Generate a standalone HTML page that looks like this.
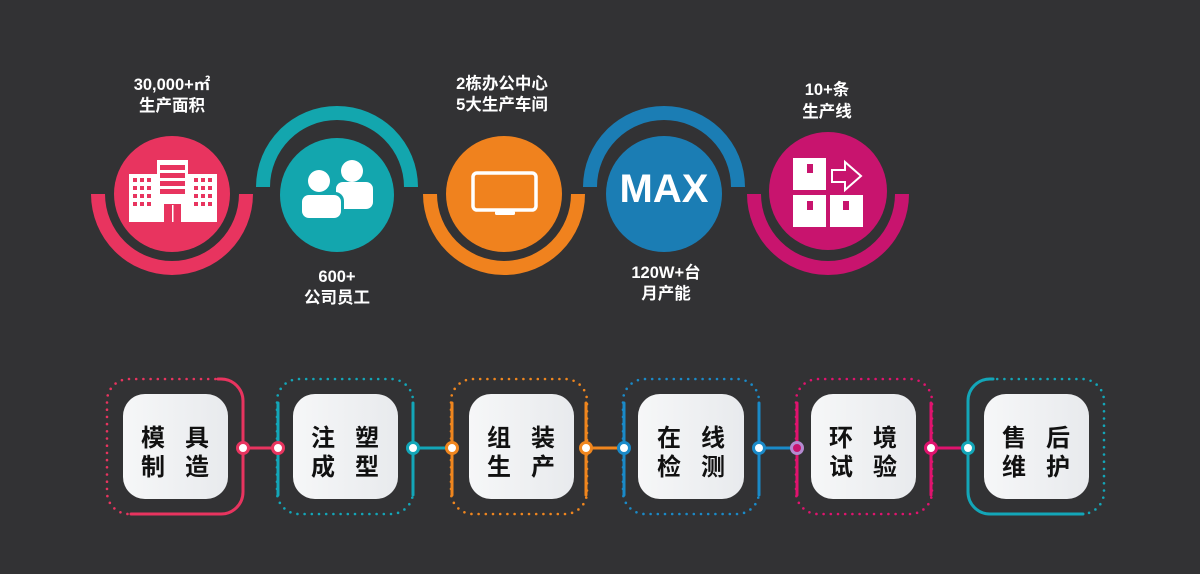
<!DOCTYPE html>
<html><head><meta charset="utf-8"><style>
html,body{margin:0;padding:0;background:#323234;}
svg{display:block}
</style></head><body>
<svg width="1200" height="574" viewBox="0 0 1200 574" xmlns="http://www.w3.org/2000/svg" font-family="'Liberation Sans','Noto Sans CJK SC',sans-serif">
<rect width="1200" height="574" fill="#323234"/>
<path d="M91,194 A81 81 0 0 0 253,194 L239,194 A67 67 0 0 1 105,194 Z" fill="#e8345f"/>
<circle cx="172" cy="194" r="58" fill="#e8345f"/>
<path d="M256,187 A81 81 0 0 1 418,187 L404,187 A67 67 0 0 0 270,187 Z" fill="#13a6ae"/>
<circle cx="337" cy="195" r="57" fill="#13a6ae"/>
<path d="M423,194 A81 81 0 0 0 585,194 L571,194 A67 67 0 0 1 437,194 Z" fill="#f0821e"/>
<circle cx="504" cy="194" r="58" fill="#f0821e"/>
<path d="M583,187 A81 81 0 0 1 745,187 L731,187 A67 67 0 0 0 597,187 Z" fill="#1b7db4"/>
<circle cx="664" cy="194" r="58" fill="#1b7db4"/>
<path d="M747,194 A81 81 0 0 0 909,194 L895,194 A67 67 0 0 1 761,194 Z" fill="#c8146e"/>
<circle cx="828" cy="191" r="59" fill="#c8146e"/>
<rect x="129" y="174" width="88" height="48" fill="#fff"/>
<rect x="157" y="160" width="31" height="62" fill="#fff"/>
<g fill="#e8345f">
<rect x="160" y="165" width="25" height="5"/><rect x="160" y="173" width="25" height="5"/><rect x="160" y="181" width="25" height="5"/><rect x="160" y="189" width="25" height="5"/>
<rect x="164" y="204" width="17" height="18"/>
<rect x="133" y="178" width="4" height="4"/><rect x="140" y="178" width="4" height="4"/><rect x="147" y="178" width="4" height="4"/>
<rect x="133" y="186" width="4" height="4"/><rect x="140" y="186" width="4" height="4"/><rect x="147" y="186" width="4" height="4"/>
<rect x="133" y="194" width="4" height="4"/><rect x="140" y="194" width="4" height="4"/><rect x="147" y="194" width="4" height="4"/>
<rect x="133" y="202" width="4" height="4"/><rect x="140" y="202" width="4" height="4"/><rect x="147" y="202" width="4" height="4"/>
<rect x="194" y="178" width="4" height="4"/><rect x="201" y="178" width="4" height="4"/><rect x="208" y="178" width="4" height="4"/>
<rect x="194" y="186" width="4" height="4"/><rect x="201" y="186" width="4" height="4"/><rect x="208" y="186" width="4" height="4"/>
<rect x="194" y="194" width="4" height="4"/><rect x="201" y="194" width="4" height="4"/><rect x="208" y="194" width="4" height="4"/>
<rect x="194" y="202" width="4" height="4"/><rect x="201" y="202" width="4" height="4"/><rect x="208" y="202" width="4" height="4"/>
</g>
<rect x="172" y="205" width="1.5" height="17" fill="#fff"/>
<g fill="#fff">
<circle cx="352" cy="171" r="11"/><rect x="336" y="182" width="37" height="27" rx="7"/>
</g>
<circle cx="319" cy="181" r="13" fill="#13a6ae"/>
<rect x="299" y="192" width="45" height="28" rx="9" fill="#13a6ae"/>
<g fill="#fff">
<circle cx="319" cy="181" r="11"/><rect x="302" y="195" width="39" height="23" rx="7"/>
</g>
<rect x="473" y="173" width="63" height="37" rx="4" fill="none" stroke="#fff" stroke-width="3.5"/>
<rect x="495" y="211" width="20" height="4" rx="1.5" fill="#fff"/>
<text x="664" y="202" font-size="40" font-weight="bold" fill="#fff" text-anchor="middle">MAX</text>
<g fill="#fff">
<rect x="793" y="158" width="33" height="32"/><rect x="793" y="195" width="33" height="32"/><rect x="830" y="195" width="33" height="32"/>
</g>
<g fill="#c8146e">
<rect x="807" y="164" width="6" height="9"/><rect x="807" y="201" width="6" height="9"/><rect x="843" y="201" width="6" height="9"/>
</g>
<path d="M832,170 H845 V162 L861,176 L845,190 V182 H832 Z" fill="none" stroke="#fff" stroke-width="2"/>
<g fill="#fff" font-weight="bold" font-size="16.5" text-anchor="middle">
<text x="172" y="90">30,000+㎡</text><text x="172" y="111">生产面积</text>
<text x="337" y="282">600+</text><text x="337" y="303">公司员工</text>
<text x="502" y="89">2栋办公中心</text><text x="502" y="110">5大生产车间</text>
<text x="666" y="278">120W+台</text><text x="666" y="299">月产能</text>
<text x="827" y="95">10+条</text><text x="827" y="117">生产线</text>
</g>
<g fill="none" stroke-width="2.6" stroke-linecap="round" stroke-dasharray="0 7.2">
<rect x="107" y="379" width="136" height="135" rx="22" stroke="#e8345f"/>
<rect x="277" y="379" width="136" height="135" rx="22" stroke="#13a6b8"/>
<rect x="451" y="379" width="136" height="135" rx="22" stroke="#f0861e"/>
<rect x="623" y="379" width="136" height="135" rx="22" stroke="#1a8ac8"/>
<rect x="796" y="379" width="136" height="135" rx="22" stroke="#e0136e"/>
<rect x="968" y="379" width="136" height="135" rx="22" stroke="#13a6b8"/>
</g>
<g fill="none" stroke-width="3" stroke-linecap="round">
<path d="M218,379 H221 A22 22 0 0 1 243 401 V492 A22 22 0 0 1 221 514 H131" stroke="#e8345f"/>
<path d="M993,379 H990 A22 22 0 0 0 968 401 V492 A22 22 0 0 0 990 514 H1083" stroke="#13a6b8"/>
<path d="M278,403 V495 M413,403 V495" stroke="#13a6b8"/>
<path d="M452,403 V495 M586,403 V495" stroke="#f0861e"/>
<path d="M624,403 V495 M759,403 V495" stroke="#1a8ac8"/>
<path d="M797,403 V495 M931,403 V495" stroke="#e0136e"/>
<path d="M243,448 H278" stroke="#e8345f"/>
<path d="M413,448 H452" stroke="#13a6b8"/>
<path d="M586,448 H624" stroke="#f0861e"/>
<path d="M759,448 H797" stroke="#1a8ac8"/>
<path d="M931,448 H968" stroke="#e0136e"/>
</g>
<g stroke-width="3">
<circle cx="243" cy="448" r="5.5" fill="#fff" stroke="#e8345f"/>
<circle cx="278" cy="448" r="5.5" fill="#fff" stroke="#e8345f"/>
<circle cx="413" cy="448" r="5.5" fill="#fff" stroke="#13a6b8"/>
<circle cx="452" cy="448" r="5.5" fill="#fff" stroke="#f0861e"/>
<circle cx="586" cy="448" r="5.5" fill="#fff" stroke="#f0861e"/>
<circle cx="624" cy="448" r="5.5" fill="#fff" stroke="#1a8ac8"/>
<circle cx="759" cy="448" r="5.5" fill="#fff" stroke="#1a8ac8"/>
<circle cx="797" cy="448" r="5.5" fill="#c8146e" stroke="#b48ad0"/>
<circle cx="931" cy="448" r="5.5" fill="#fff" stroke="#e0136e"/>
<circle cx="968" cy="448" r="5.5" fill="#fff" stroke="#13a6b8"/>
</g>
<defs><linearGradient id="g" x1="0" x2="1"><stop offset="0" stop-color="#f6f7f8"/><stop offset="1" stop-color="#e8eaed"/></linearGradient></defs>
<g fill="url(#g)">
<rect x="123" y="394" width="105" height="105" rx="22"/>
<rect x="293" y="394" width="105" height="105" rx="22"/>
<rect x="469" y="394" width="105" height="105" rx="22"/>
<rect x="638" y="394" width="106" height="105" rx="22"/>
<rect x="811" y="394" width="105" height="105" rx="22"/>
<rect x="984" y="394" width="105" height="105" rx="22"/>
</g>
<g fill="#111" font-weight="bold" font-size="24" text-anchor="middle">
<text x="153" y="446">模</text><text x="197" y="446">具</text><text x="153" y="475">制</text><text x="197" y="475">造</text>
<text x="323" y="446">注</text><text x="367" y="446">塑</text><text x="323" y="475">成</text><text x="367" y="475">型</text>
<text x="499" y="446">组</text><text x="543" y="446">装</text><text x="499" y="475">生</text><text x="543" y="475">产</text>
<text x="669" y="446">在</text><text x="713" y="446">线</text><text x="669" y="475">检</text><text x="713" y="475">测</text>
<text x="841" y="446">环</text><text x="885" y="446">境</text><text x="841" y="475">试</text><text x="885" y="475">验</text>
<text x="1014" y="446">售</text><text x="1058" y="446">后</text><text x="1014" y="475">维</text><text x="1058" y="475">护</text>
</g>
</svg>
</body></html>
